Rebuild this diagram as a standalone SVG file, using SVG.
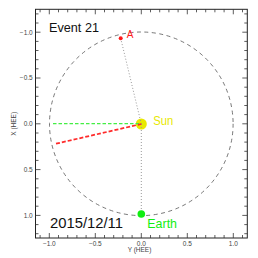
<svg xmlns="http://www.w3.org/2000/svg" width="258" height="258" viewBox="0 0 258 258">
<style>
.frame{fill:none;stroke:#222;stroke-width:1}
.tick{fill:none;stroke:#333;stroke-width:0.8}
.lab{font-family:"Liberation Sans",Arial,sans-serif;font-size:6.5px;fill:#444}
.big{font-family:"Liberation Sans",Arial,sans-serif}
.dot{fill:none;stroke:#999;stroke-width:1;stroke-dasharray:1 2}
</style>
<rect width="258" height="258" fill="#fff"/>
<g id="axes">
<rect class="frame" x="35.5" y="9.3" width="211.8" height="228.7"/>
<path class="tick" d="M40.1 238v-3M49.3 238v-5M58.5 238v-3M67.7 238v-3M76.9 238v-3M86.1 238v-3M95.3 238v-5M104.5 238v-3M113.7 238v-3M122.9 238v-3M132.1 238v-3M141.3 238v-5M150.5 238v-3M159.7 238v-3M168.9 238v-3M178.1 238v-3M187.3 238v-5M196.5 238v-3M205.7 238v-3M214.9 238v-3M224.1 238v-3M233.3 238v-5M242.5 238v-3"/>
<path class="tick" d="M40.1 9.3v3M49.3 9.3v5M58.5 9.3v3M67.7 9.3v3M76.9 9.3v3M86.1 9.3v3M95.3 9.3v5M104.5 9.3v3M113.7 9.3v3M122.9 9.3v3M132.1 9.3v3M141.3 9.3v5M150.5 9.3v3M159.7 9.3v3M168.9 9.3v3M178.1 9.3v3M187.3 9.3v5M196.5 9.3v3M205.7 9.3v3M214.9 9.3v3M224.1 9.3v3M233.3 9.3v5M242.5 9.3v3"/>
<path class="tick" d="M35.5 13.9h3M35.5 23h3M35.5 32.2h5M35.5 41.4h3M35.5 50.5h3M35.5 59.7h3M35.5 68.8h3M35.5 78h5M35.5 87.2h3M35.5 96.3h3M35.5 105.5h3M35.5 114.6h3M35.5 123.8h5M35.5 133h3M35.5 142.1h3M35.5 151.3h3M35.5 160.4h3M35.5 169.6h5M35.5 178.8h3M35.5 187.9h3M35.5 197.1h3M35.5 206.2h3M35.5 215.4h5M35.5 224.6h3M35.5 233.7h3"/>
<path class="tick" d="M247.3 13.9h-3M247.3 23h-3M247.3 32.2h-5M247.3 41.4h-3M247.3 50.5h-3M247.3 59.7h-3M247.3 68.8h-3M247.3 78h-5M247.3 87.2h-3M247.3 96.3h-3M247.3 105.5h-3M247.3 114.6h-3M247.3 123.8h-5M247.3 133h-3M247.3 142.1h-3M247.3 151.3h-3M247.3 160.4h-3M247.3 169.6h-5M247.3 178.8h-3M247.3 187.9h-3M247.3 197.1h-3M247.3 206.2h-3M247.3 215.4h-5M247.3 224.6h-3M247.3 233.7h-3"/>
<g class="lab" text-anchor="end">
<text x="32.7" y="34.5">−1.0</text>
<text x="32.7" y="80.3">−0.5</text>
<text x="32.7" y="126.1">0.0</text>
<text x="32.7" y="171.9">0.5</text>
<text x="32.7" y="217.7">1.0</text>
</g>
<g class="lab" text-anchor="middle">
<text x="49.3" y="245.5">−1.0</text>
<text x="95.3" y="245.5">−0.5</text>
<text x="141.3" y="245.5">0.0</text>
<text x="187.3" y="245.5">0.5</text>
<text x="233.3" y="245.5">1.0</text>
<text x="139.5" y="252.3">Y (HEE)</text>
<text transform="translate(16 123.8) rotate(-90)">X (HEE)</text>
</g>
</g>
<g id="orbit">
<circle cx="141.3" cy="123.8" r="91.8" fill="none" stroke="#555" stroke-width="0.8" stroke-dasharray="4 3.5"/>
</g>
<g id="sun">
<circle cx="141.3" cy="124" r="5.5" fill="#e8e800"/>
<text class="big" x="153.3" y="125" font-size="13" fill="#e8e800" textLength="20" lengthAdjust="spacingAndGlyphs">Sun</text>
</g>
<g id="connectors">
<line class="dot" x1="120.7" y1="38.3" x2="141.3" y2="124"/>
<line class="dot" x1="141.3" y1="124" x2="141.3" y2="214"/>
<line x1="53" y1="123.6" x2="141.3" y2="123.6" stroke="#44ee44" stroke-width="1.1" stroke-dasharray="3.5 2"/>
<line x1="56" y1="143.7" x2="141.3" y2="124" stroke="#ff2a2a" stroke-width="1.7" stroke-dasharray="4 2"/>
</g>
<g id="stereoA">
<circle cx="120.7" cy="38.3" r="2" fill="#ff1a1a"/>
<text class="big" x="126.7" y="38.3" font-size="10" fill="#ff1a1a">A</text>
</g>
<g id="earth">
<circle cx="141.3" cy="214" r="3.8" fill="#11ee11"/>
<text class="big" x="147.3" y="228" font-size="13" fill="#11ee11" textLength="29.7" lengthAdjust="spacingAndGlyphs">Earth</text>
</g>
<g id="labels">
<text class="big" x="49" y="32.3" font-size="12.5" fill="#111" textLength="50" lengthAdjust="spacingAndGlyphs">Event  21</text>
<text class="big" x="50" y="228" font-size="15" fill="#111" textLength="73" lengthAdjust="spacingAndGlyphs">2015/12/11</text>
</g>
</svg>
